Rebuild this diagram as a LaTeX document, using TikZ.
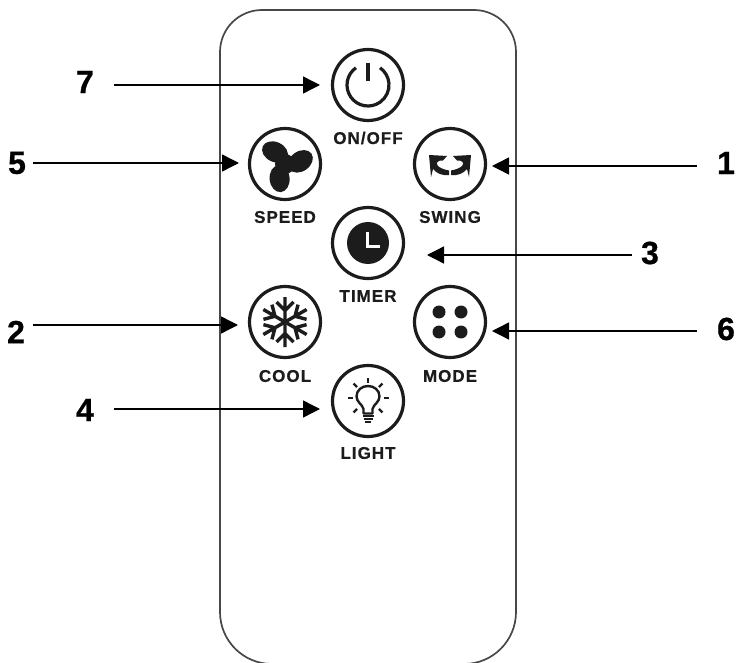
\documentclass[tikz,border=0pt]{standalone}
\usepackage{fontspec}
\setmainfont{Liberation Sans}
\newfontfamily\lblfont[LetterSpace=6,FakeBold=0.6]{Liberation Sans Bold}
\newfontfamily\numfont[FakeBold=0.8]{Liberation Sans Bold}
\usetikzlibrary{arrows.meta}
\definecolor{ink}{HTML}{1C1C1C}
\tikzset{
  btn/.style={circle,draw=ink,line width=3.2pt,minimum size=71pt,inner sep=0pt,fill=white},
  lbl/.style={font=\lblfont\fontsize{17}{17}\selectfont,text=ink,inner sep=0pt},
  num/.style={font=\numfont\fontsize{32}{32}\selectfont,text=black,inner sep=0pt},
  arr/.style={draw=black,line width=1.4pt,-{Triangle[length=17pt,width=17pt]}},
  iconline/.style={draw=ink,line width=2.2pt,line cap=round},
}
\begin{document}
\begin{tikzpicture}[x=1pt,y=-1pt]
\useasboundingbox (0,0) rectangle (739,663);
\begin{scope}
\clip (0,0) rectangle (739,663);
\draw[draw=black!72,line width=1.7pt,line join=round]
  (220,612) -- (220,52) arc[start angle=180,end angle=270,radius=42] -- (474,10)
  arc[start angle=270,end angle=360,radius=42] -- (516,612)
  arc[start angle=0,end angle=90,radius=52] -- (272,664)
  arc[start angle=90,end angle=180,radius=52];
\end{scope}
\node[btn] (onoff) at (368,85) {};
\node[btn] (speed) at (285,164) {};
\node[btn] (swing) at (450,164) {};
\node[btn] (timer) at (368,243) {};
\node[btn] (cool) at (285,322) {};
\node[btn] (mode) at (450,322) {};
\node[btn] (light) at (368,401) {};
\node[lbl] (lonoff) at (368,138) {ON/OFF};
\node[lbl] (lspeed) at (285,217) {SPEED};
\node[lbl] (lswing) at (450,217) {SWING};
\node[lbl] (ltimer) at (368,296) {TIMER};
\node[lbl] (lcool) at (285,376) {COOL};
\node[lbl] (lmode) at (450,376) {MODE};
\node[lbl] (llight) at (368,453) {LIGHT};
\node[num] (n7) at (85,82) {7};
\node[num] (n5) at (17,163) {5};
\node[num] (n1) at (726,163) {1};
\node[num] (n3) at (650,253) {3};
\node[num] (n2) at (16,332) {2};
\node[num] (n6) at (726,329) {6};
\node[num] (n4) at (85,410) {4};
\coordinate (a7s) at (114,85); \coordinate (a7e) at (320,85);
\coordinate (a5s) at (33,163); \coordinate (a5e) at (239,163);
\coordinate (a1s) at (697,166); \coordinate (a1e) at (492,166);
\coordinate (a3s) at (632,255); \coordinate (a3e) at (427,255);
\coordinate (a2s) at (33,325); \coordinate (a2e) at (238,325);
\coordinate (a6s) at (697,331); \coordinate (a6e) at (492,331);
\coordinate (a4s) at (114,409); \coordinate (a4e) at (320,409);
\foreach \a in {7,5,1,3,2,6,4} \draw[arr] (a\a s) -- (a\a e);
% power
\begin{scope}[shift={(onoff.center)}]
\draw[iconline,line width=3.2pt,line cap=butt] (0,0) ++(235:21) arc[start angle=235,end angle=-55,radius=21];
\draw[iconline,line width=3.2pt,line cap=butt] (0,-22) -- (0,-4);
\end{scope}
% fan
\begin{scope}[shift={(speed.center)}]
\foreach \r in {0,120,240}
\fill[ink,rotate=\r,shift={(-10,-12)},rotate=-25] (0,0) ellipse [x radius=13.5,y radius=10];
\fill[ink] (0,0) circle (10);
\end{scope}
% swing
\begin{scope}[shift={(swing.center)}]
\foreach \s in {1,-1}
\fill[ink,xscale=\s] (-21,-9) -- (-3,-8) -- (-7,-3.5) .. controls (-12,-4) and (-15,-1) .. (-12,2) .. controls (-10,4) and (-5,6) .. (-1,6.5) -- (-1,11) .. controls (-8,12) and (-14,9) .. (-17,5) -- (-19,13) -- cycle;
\end{scope}
% timer
\begin{scope}[shift={(timer.center)}]
\fill[ink] (0,0) circle (21);
\draw[draw=white,line width=3pt] (-1,-11) -- (-1,4) -- (12,4);
\end{scope}
% cool
\begin{scope}[shift={(cool.center)}]
\foreach \r in {0,60,...,300}
\draw[iconline,line cap=butt,line width=3.4pt,rotate=\r] (0,0) -- (0,-25) (-8.5,-20) -- (0,-11.5) -- (8.5,-20);
\end{scope}
% mode
\begin{scope}[shift={(mode.center)}]
\foreach \x/\y in {-11/-10,11/-10,-11/10,11/10} \fill[ink] (\x,\y) circle (6.5);
\end{scope}
% light
\begin{scope}[shift={(light.center)}]
\draw[iconline,line width=2.4pt,line join=round,line cap=butt] (-4.5,12.5) -- (-4.5,8) .. controls (-5.5,3.5) and (-11.5,1) .. (-11.5,-4.5) .. controls (-11.5,-11) and (-6,-15) .. (0,-15) .. controls (6,-15) and (11.5,-11) .. (11.5,-4.5) .. controls (11.5,1) and (5.5,3.5) .. (4.5,8) -- (4.5,12.5) -- cycle;
\foreach \yy/\w in {15/5.5,18/4.5,21/3} \draw[draw=ink,line width=2pt] (-\w,\yy) -- (\w,\yy);
\foreach \ang in {90,45,135,0,180,-45,-135}
\draw[iconline,line width=2.2pt,line cap=butt,shift={(0,-3)},rotate=\ang] (15.5,0) -- (20.5,0);
\end{scope}
\end{tikzpicture}
\end{document}
